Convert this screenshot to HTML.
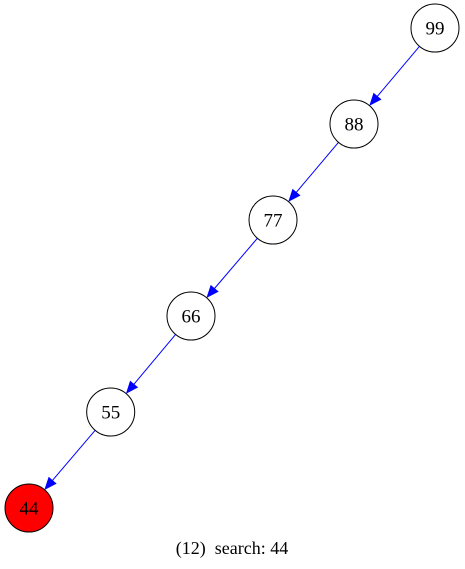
<!DOCTYPE html>
<html><head><meta charset="utf-8"><style>
html,body{margin:0;padding:0;background:#fff;}
svg{display:block;}
text{font-family:"Liberation Serif",serif;}
</style></head><body>
<svg id="chart" width="465" height="569" viewBox="0 0 465 569" xmlns="http://www.w3.org/2000/svg">
<text x="232" y="554" font-size="18" text-anchor="middle" style="white-space:pre" xml:space="preserve">(12)  search: 44</text>
</svg>
<script>
const labels = ["99","88","77","66","55","44"];
const xs = [435,354,273,191,110.7,29];
const ys = [28,124,220,316,412,508];
const found = ["44"];
const NS = "http://www.w3.org/2000/svg";
const svg = document.getElementById('chart');
const R = 24;
for (let i = 0; i < labels.length - 1; i++) {
  const x1 = xs[i], y1 = ys[i], x2 = xs[i+1], y2 = ys[i+1];
  const dx = x2 - x1, dy = y2 - y1, L = Math.hypot(dx, dy), ux = dx / L, uy = dy / L;
  const sx = x1 + ux * R, sy = y1 + uy * R;
  const tx = x2 - ux * (R + 1), ty = y2 - uy * (R + 1);
  const bx = tx - ux * 11, by = ty - uy * 11;
  const line = document.createElementNS(NS, 'line');
  
  
  line.setAttribute('x1', sx); line.setAttribute('y1', sy);
  line.setAttribute('x2', bx); line.setAttribute('y2', by);
  line.setAttribute('stroke', '#0000ff'); line.setAttribute('stroke-width', '1');
  svg.appendChild(line);
  const px = -uy, py = ux;
  const head = document.createElementNS(NS, 'polygon');
  
  
  head.setAttribute('points', `${tx},${ty} ${bx + px*4.5},${by + py*4.5} ${bx - px*4.5},${by - py*4.5}`);
  head.setAttribute('fill', '#0000ff'); head.setAttribute('stroke', '#0000ff');
  svg.appendChild(head);
}
for (let i = 0; i < labels.length; i++) {
  const c = document.createElementNS(NS, 'circle');
  
  
  c.setAttribute('cx', xs[i]); c.setAttribute('cy', ys[i]); c.setAttribute('r', R);
  c.setAttribute('fill', found.includes(labels[i]) ? '#ff0000' : '#ffffff');
  c.setAttribute('stroke', '#000'); c.setAttribute('stroke-width', '1');
  svg.appendChild(c);
  const t = document.createElementNS(NS, 'text');
  
  
  t.setAttribute('x', xs[i]); t.setAttribute('y', ys[i] + 6.5);
  t.setAttribute('font-size', '19'); t.setAttribute('text-anchor', 'middle');
  t.textContent = labels[i];
  svg.appendChild(t);
}
</script>
</body></html>
